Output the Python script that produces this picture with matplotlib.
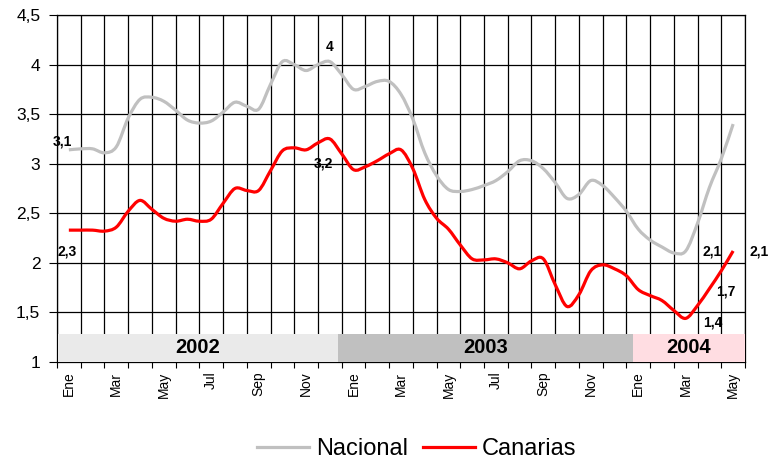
import numpy as np
import matplotlib
matplotlib.use("Agg")
import matplotlib.pyplot as plt
from matplotlib.path import Path
from matplotlib.patches import PathPatch, Rectangle
from matplotlib.lines import Line2D

plt.rcParams['font.family'] = ['Liberation Sans', 'DejaVu Sans']

# monthly categories, Ene 2002 .. May 2004
months = ['Ene', 'Feb', 'Mar', 'Abr', 'May', 'Jun', 'Jul', 'Ago', 'Sep', 'Oct', 'Nov', 'Dic'] * 2 + \
         ['Ene', 'Feb', 'Mar', 'Abr', 'May']
years = ['2002', '2003', '2004']

# values read every half month (position in month units)
t = np.arange(0, 28.01, 0.5)
nacional = [3.14, 3.15, 3.15, 3.11, 3.17, 3.46, 3.65, 3.67, 3.63, 3.54,
            3.44, 3.41, 3.43, 3.52, 3.62, 3.58, 3.55, 3.80, 4.03, 4.00,
            3.94, 4.00, 4.03, 3.90, 3.75, 3.78, 3.83, 3.83, 3.70, 3.45,
            3.11, 2.88, 2.74, 2.72, 2.74, 2.78, 2.83, 2.92, 3.03, 3.03,
            2.95, 2.81, 2.65, 2.69, 2.83, 2.78, 2.66, 2.52, 2.34, 2.23,
            2.16, 2.10, 2.12, 2.40, 2.76, 3.05, 3.40]
canarias = [2.33, 2.33, 2.33, 2.32, 2.36, 2.52, 2.63, 2.54, 2.45, 2.42,
            2.44, 2.42, 2.44, 2.60, 2.75, 2.73, 2.73, 2.93, 3.13, 3.16,
            3.14, 3.21, 3.25, 3.10, 2.94, 2.97, 3.03, 3.10, 3.14, 2.95,
            2.64, 2.45, 2.34, 2.18, 2.04, 2.03, 2.04, 2.00, 1.94, 2.02,
            2.04, 1.78, 1.56, 1.68, 1.92, 1.98, 1.94, 1.87, 1.73, 1.67,
            1.62, 1.52, 1.44, 1.57, 1.74, 1.92, 2.12]

point_labels = ['3,1', '2,3', '4', '3,2', '2,1', '2,1', '1,7', '1,4']


def smooth_path(xs, ys):
    # catmull-rom through the points, drawn as cubic beziers
    pts = np.column_stack([xs, ys])
    verts = [pts[0]]
    codes = [Path.MOVETO]
    n = len(pts)
    for i in range(n - 1):
        p0 = pts[max(i - 1, 0)]
        p1 = pts[i]
        p2 = pts[i + 1]
        p3 = pts[min(i + 2, n - 1)]
        verts += [p1 + (p2 - p0) / 6, p2 - (p3 - p1) / 6, p2]
        codes += [Path.CURVE4] * 3
    return Path(verts, codes)


fig = plt.figure(figsize=(7.69, 4.66), dpi=100)
ax = fig.add_axes([0.0741, 0.2232, 0.8947, 0.7446])
ax.set_xlim(-0.5, 28.5)
ax.set_ylim(1, 4.5)

# grid
ax.set_yticks(np.arange(1, 4.51, 0.5))
ax.set_yticklabels([f"{v:g}".replace('.', ',') for v in np.arange(1, 4.51, 0.5)], fontsize=12.5)
ax.set_xticks(np.arange(0, 29, 2))
ax.set_xticklabels(months[::2], rotation=90, fontsize=10)
ax.set_xticks(np.arange(-0.5, 29, 1), minor=True)
ax.tick_params(axis='x', which='major', length=0, pad=7)
ax.tick_params(axis='x', which='minor', length=4, width=0.8, direction='out')
ax.tick_params(axis='y', length=6, width=0.8, direction='out', pad=6)
ax.grid(True, axis='y', color='black', lw=0.9)
ax.grid(True, axis='x', which='minor', color='black', lw=0.9)
for s in ax.spines.values():
    s.set_color('black')
    s.set_linewidth(0.9)

# year bands
band_edges = [-0.46, 11.35, 23.78, 28.5]
band_colors = ['#EAEAEA', '#C0C0C0', '#FFDDE2']
for i, yr in enumerate(years):
    x0, x1 = band_edges[i], band_edges[i + 1]
    ax.add_patch(Rectangle((x0, 1), x1 - x0, 0.28, facecolor=band_colors[i],
                           edgecolor='none', zorder=3))
    ax.text((x0 + x1) / 2, 1.145, yr, ha='center', va='center', fontsize=14.5,
            fontweight='bold', zorder=4)

# series
ax.add_patch(PathPatch(smooth_path(t, nacional), fill=False, edgecolor='#C0C0C0',
                       lw=2.3, capstyle='butt', zorder=5))
ax.add_patch(PathPatch(smooth_path(t, canarias), fill=False, edgecolor='#FF0000',
                       lw=2.3, capstyle='butt', zorder=6))

# data labels
label_pos = [(-0.29, 3.22), (-0.06, 2.11), (10.98, 4.18), (10.71, 3.0),
             (27.1, 2.11), (29.1, 2.11), (27.7, 1.71), (27.14, 1.40)]
for txt, (lx, ly) in zip(point_labels, label_pos):
    ax.text(lx, ly, txt, ha='center', va='center', fontsize=10,
            fontweight='bold', zorder=7, clip_on=False)

handles = [Line2D([], [], color='#C0C0C0', lw=2.3),
           Line2D([], [], color='#FF0000', lw=2.3)]
fig.legend(handles, ['Nacional', 'Canarias'], loc='center', bbox_to_anchor=(0.542, 0.036),
           ncol=2, frameon=False, fontsize=17, handlelength=2.2, handletextpad=0.3,
           columnspacing=0.6)

fig.savefig('out.png', dpi=100)
